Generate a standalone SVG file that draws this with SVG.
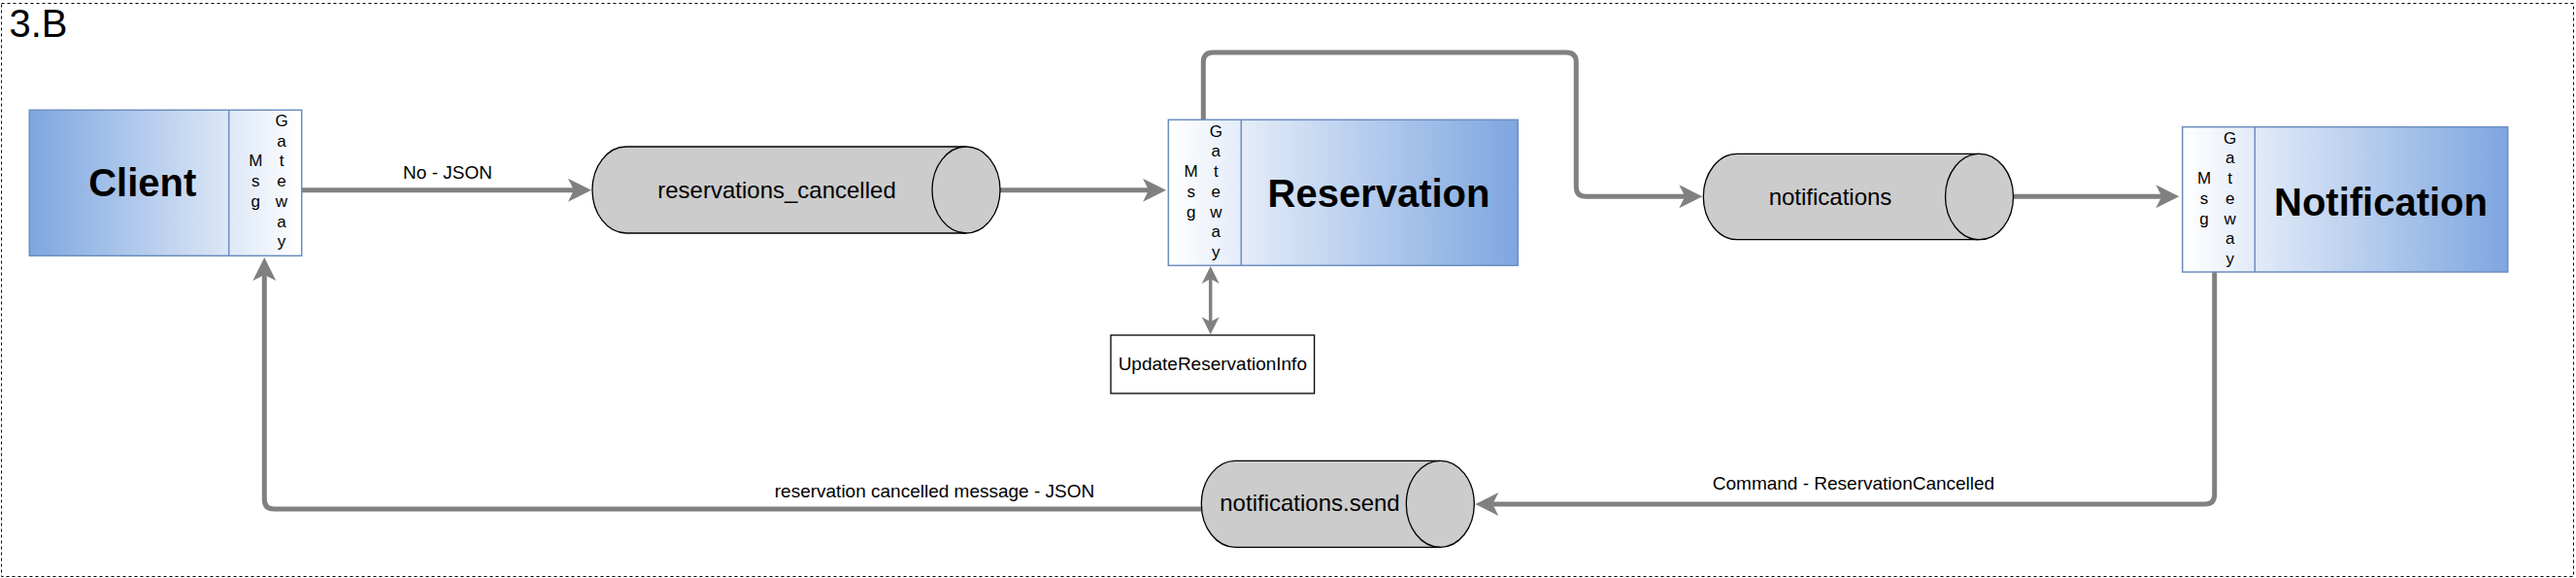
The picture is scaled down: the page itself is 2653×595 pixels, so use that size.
<svg xmlns="http://www.w3.org/2000/svg" width="2653" height="595" viewBox="0 0 2653 595">
<style>
text{font-family:"Liberation Sans",Arial,sans-serif;fill:#000}
.title{font-size:40px}
.big{font-size:40px;font-weight:bold;text-anchor:middle}
.gw{font-size:17px;text-anchor:middle}
.lbl{font-size:19px;text-anchor:middle}
.cyl-t{font-size:24px;text-anchor:middle}
.box{stroke:#6C8EBF;stroke-width:1.5}
.cyl{fill:#CCCCCC;stroke:#000;stroke-width:1.3}
.cyl-in{fill:none;stroke:#000;stroke-width:1.3}
.con{fill:none;stroke:#808080;stroke-width:5;stroke-linejoin:round}
.con2{fill:none;stroke:#808080;stroke-width:3.5}
</style>
<defs>
<linearGradient id="gL" x1="0" y1="0" x2="1" y2="0"><stop offset="0" stop-color="#7EA6E0"/><stop offset="1" stop-color="#FFFFFF"/></linearGradient>
<linearGradient id="gR" x1="0" y1="0" x2="1" y2="0"><stop offset="0" stop-color="#FFFFFF"/><stop offset="1" stop-color="#7EA6E0"/></linearGradient>
<marker id="arr" markerUnits="userSpaceOnUse" markerWidth="26" markerHeight="26" refX="6" refY="12" orient="auto" overflow="visible"><path d="M0,0 L24,12 L0,24 L6,12 Z" fill="#808080"/></marker>
<marker id="arrS" markerUnits="userSpaceOnUse" markerWidth="20" markerHeight="20" refX="5" refY="9" orient="auto-start-reverse" overflow="visible"><path d="M0,0 L18,9 L0,18 L5,9 Z" fill="#808080"/></marker>
</defs>

<rect x="1.5" y="3.5" width="2649" height="590" fill="#FFFFFF" stroke="#000" stroke-width="1" stroke-dasharray="3 3"/>
<text class="title" x="9.5" y="37.7">3.B</text>

<g id="connectors">
<path class="con" d="M310.7,195.7 L591,195.7" marker-end="url(#arr)"/>
<path class="con" d="M1030,195.7 L1183,195.7" marker-end="url(#arr)"/>
<path class="con" d="M1239.3,123.3 L1239.3,64 Q1239.3,54 1249.3,54 L1613.3,54 Q1623.3,54 1623.3,64 L1623.3,192.3 Q1623.3,202.3 1633.3,202.3 L1735.3,202.3" marker-end="url(#arr)"/>
<path class="con" d="M2073.5,202.3 L2226.3,202.3" marker-end="url(#arr)"/>
<path class="con" d="M2280.7,280 L2280.7,509 Q2280.7,519 2270.7,519 L1537.3,519" marker-end="url(#arr)"/>
<path class="con" d="M1237.3,524 L282.3,524 Q272.3,524 272.3,514 L272.3,283" marker-end="url(#arr)"/>
<path class="con2" d="M1246.7,287 L1246.7,331.3" marker-start="url(#arrS)" marker-end="url(#arrS)"/>
<text class="lbl" x="461" y="184">No - JSON</text>
<text class="lbl" x="1909" y="504">Command - ReservationCancelled</text>
<text class="lbl" x="962.5" y="512">reservation cancelled message - JSON</text>
</g>

<g id="client">
<rect class="box" x="30.3" y="113.3" width="280.4" height="150" fill="url(#gL)"/>
<line class="box" x1="235.7" y1="113.3" x2="235.7" y2="263.3"/>
<text class="big" x="146.7" y="201.7">Client</text>
<text class="gw" y="171.4"><tspan x="263.3">M</tspan><tspan x="263.3" dy="20.7">s</tspan><tspan x="263.3" dy="20.7">g</tspan></text>
<text class="gw" y="130"><tspan x="290">G</tspan><tspan x="290" dy="20.7">a</tspan><tspan x="290" dy="20.7">t</tspan><tspan x="290" dy="20.7">e</tspan><tspan x="290" dy="20.7">w</tspan><tspan x="290" dy="20.7">a</tspan><tspan x="290" dy="20.7">y</tspan></text>
</g>

<g id="reservations_cancelled">
<path class="cyl" d="M645,151 L995,151 A35,44.5 0 0 1 995,240 L645,240 A35,44.5 0 0 1 645,151 Z"/>
<path class="cyl-in" d="M995,151 A35,44.5 0 0 0 995,240"/>
<text class="cyl-t" x="800" y="204">reservations_cancelled</text>
</g>

<g id="reservation">
<rect class="box" x="1203.3" y="123.3" width="360" height="150" fill="url(#gR)"/>
<line class="box" x1="1278.3" y1="123.3" x2="1278.3" y2="273.3"/>
<text class="big" x="1420" y="213.3">Reservation</text>
<text class="gw" y="182.1"><tspan x="1226.7">M</tspan><tspan x="1226.7" dy="20.7">s</tspan><tspan x="1226.7" dy="20.7">g</tspan></text>
<text class="gw" y="140.7"><tspan x="1252.3">G</tspan><tspan x="1252.3" dy="20.7">a</tspan><tspan x="1252.3" dy="20.7">t</tspan><tspan x="1252.3" dy="20.7">e</tspan><tspan x="1252.3" dy="20.7">w</tspan><tspan x="1252.3" dy="20.7">a</tspan><tspan x="1252.3" dy="20.7">y</tspan></text>
</g>

<g id="update_reservation_info">
<rect x="1144" y="345" width="209.6" height="60" fill="#FFFFFF" stroke="#000" stroke-width="1.3"/>
<text class="lbl" x="1248.8" y="381">UpdateReservationInfo</text>
</g>

<g id="notifications">
<path class="cyl" d="M1789.3,158.3 L2038.5,158.3 A35,44.2 0 0 1 2038.5,246.7 L1789.3,246.7 A35,44.2 0 0 1 1789.3,158.3 Z"/>
<path class="cyl-in" d="M2038.5,158.3 A35,44.2 0 0 0 2038.5,246.7"/>
<text class="cyl-t" x="1885" y="211">notifications</text>
</g>

<g id="notification">
<rect class="box" x="2247.7" y="130.7" width="335" height="149.3" fill="url(#gR)"/>
<line class="box" x1="2322.3" y1="130.7" x2="2322.3" y2="280"/>
<text class="big" x="2452" y="221.7">Notification</text>
<text class="gw" y="189.1"><tspan x="2270">M</tspan><tspan x="2270" dy="20.7">s</tspan><tspan x="2270" dy="20.7">g</tspan></text>
<text class="gw" y="147.7"><tspan x="2296.7">G</tspan><tspan x="2296.7" dy="20.7">a</tspan><tspan x="2296.7" dy="20.7">t</tspan><tspan x="2296.7" dy="20.7">e</tspan><tspan x="2296.7" dy="20.7">w</tspan><tspan x="2296.7" dy="20.7">a</tspan><tspan x="2296.7" dy="20.7">y</tspan></text>
</g>

<g id="notifications_send">
<path class="cyl" d="M1272.3,474.3 L1483.3,474.3 A35,44.5 0 0 1 1483.3,563.3 L1272.3,563.3 A35,44.5 0 0 1 1272.3,474.3 Z"/>
<path class="cyl-in" d="M1483.3,474.3 A35,44.5 0 0 0 1483.3,563.3"/>
<text class="cyl-t" x="1349" y="526">notifications.send</text>
</g>
</svg>
